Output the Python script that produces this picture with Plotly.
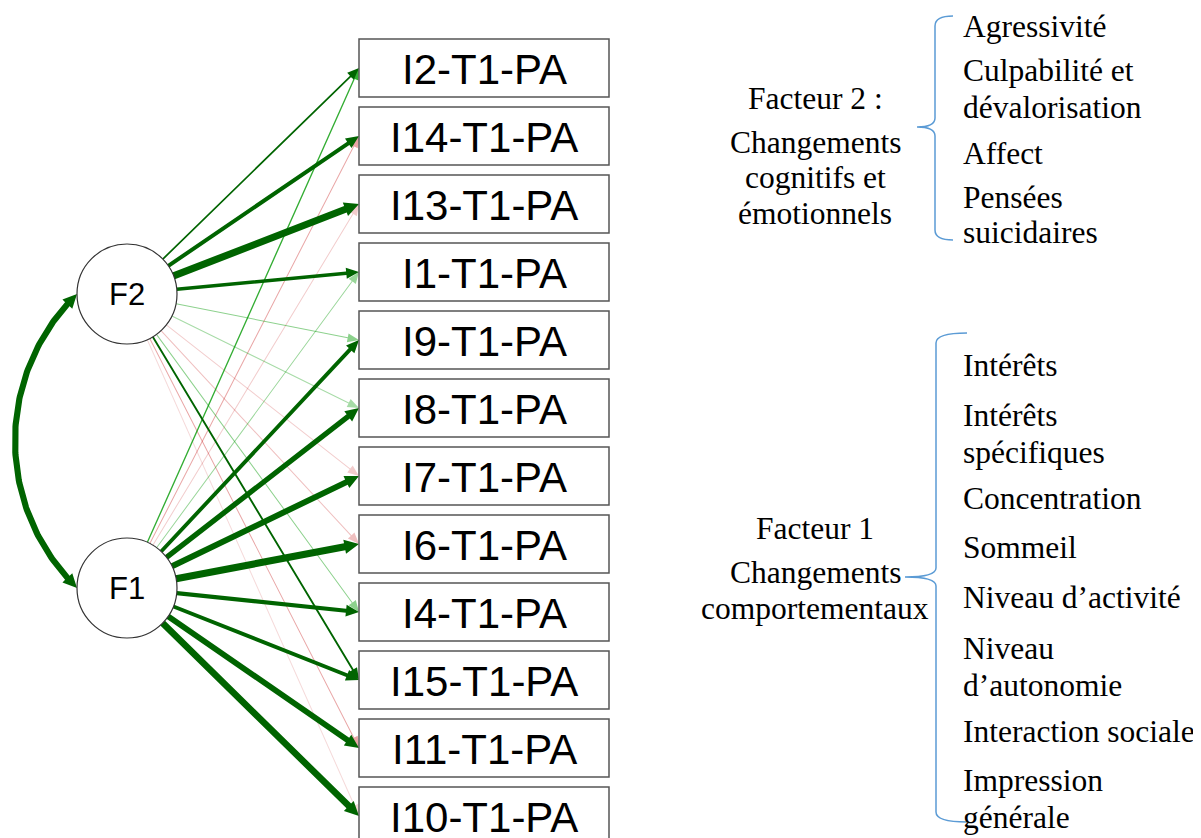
import numpy as np
import plotly.graph_objects as go

items = ["I2-T1-PA", "I14-T1-PA", "I13-T1-PA", "I1-T1-PA", "I9-T1-PA", "I8-T1-PA",
         "I7-T1-PA", "I6-T1-PA", "I4-T1-PA", "I15-T1-PA", "I11-T1-PA", "I10-T1-PA"]
load_f2 = [0.20, 0.47, 0.84, 0.42, 0.09, 0.07, -0.04, -0.05, 0.09, 0.22, -0.07, -0.03]
load_f1 = [0.16, -0.07, -0.04, 0.08, 0.45, 0.62, 0.70, 0.84, 0.48, 0.45, 0.68, 0.78]
cov_f1_f2 = 0.72

f2_title = ["Facteur 2 :", "Changements", "cognitifs et", "émotionnels"]
f2_items = ["Agressivité", "Culpabilité et", "dévalorisation", "Affect", "Pensées", "suicidaires"]
f1_title = ["Facteur 1", "Changements", "comportementaux"]
f1_items = ["Intérêts", "Intérêts", "spécifiques", "Concentration", "Sommeil",
            "Niveau d’activité", "Niveau", "d’autonomie", "Interaction sociale",
            "Impression", "générale"]

# layout (pixels of the page)
W, H = 1201, 838
PAD = 8  # default body margin of the html page
F2C = (127, 294)
F1C = (127, 588)
RAD = 50
BOX_X0, BOX_X1, BOX_TOP, PITCH, BOX_H = 359, 609, 39, 68, 58
CUT = 0.2

f2_title_base = [108, 152, 187, 223]
f2_item_base = [36, 80, 117, 163, 207, 242]
f1_title_base = [538, 582, 618]
f1_item_base = [375, 425, 462, 508, 557, 607, 658, 695, 741, 790, 827]


def edge_style(w):
    a = min(1.0, abs(w) / CUT)
    if w > 0:
        rgb = (0, 100, 0) if abs(w) >= CUT else (0, 153, 0)
    else:
        rgb = (191, 0, 0)
    return f"rgba({rgb[0]},{rgb[1]},{rgb[2]},{a:.2f})", max(1.0, 8.5 * abs(w))


def arrow_polygon(start, end, width):
    s = np.array(start, float)
    e = np.array(end, float)
    u = (e - s) / np.linalg.norm(e - s)
    n = np.array([-u[1], u[0]])
    L = 11 + 0.5 * width
    hw = 4 + 0.45 * width
    b = e - L * u
    pts = [s + n * width / 2, b + n * width / 2, b + n * hw, e,
           b - n * hw, b - n * width / 2, s - n * width / 2, s + n * width / 2]
    return [p[0] for p in pts], [p[1] for p in pts]


fig = go.Figure()

edges = []
for i in range(len(items)):
    yc = BOX_TOP + PITCH * i + BOX_H / 2
    edges.append((F2C, (BOX_X0, yc), load_f2[i]))
    edges.append((F1C, (BOX_X0, yc), load_f1[i]))
edges.sort(key=lambda e: abs(e[2]))

for c, end, w in edges:
    col, lw = edge_style(w)
    d = np.array(end) - np.array(c)
    start = np.array(c) + RAD * d / np.linalg.norm(d)
    xs, ys = arrow_polygon(start, end, lw)
    fig.add_trace(go.Scatter(x=xs, y=ys, mode="lines", fill="toself", fillcolor=col,
                             line=dict(width=0), hoverinfo="skip", showlegend=False))

# curved covariance arrow between the two factors
top = (F2C[0] - RAD, F2C[1])
bot = (F1C[0] - RAD, F1C[1])
left_x = 15
half = (bot[1] - top[1]) / 2
sag = top[0] - left_x
R = (sag ** 2 + half ** 2) / (2 * sag)
cx, cy = left_x + R, (top[1] + bot[1]) / 2
t_top = np.arctan2(top[1] - cy, top[0] - cx) % (2 * np.pi)
t_bot = np.arctan2(bot[1] - cy, bot[0] - cx)
cov_col, cov_w = edge_style(cov_f1_f2)
L_head = 11 + 0.5 * cov_w
dt = (L_head - 2) / R
th = np.linspace(t_bot + dt, t_top - dt, 120)
fig.add_trace(go.Scatter(x=cx + R * np.cos(th), y=cy + R * np.sin(th), mode="lines",
                         line=dict(color=cov_col, width=cov_w), hoverinfo="skip",
                         showlegend=False))
for tip_t, sgn in [(t_top, -1), (t_bot, 1)]:
    tip = (cx + R * np.cos(tip_t), cy + R * np.sin(tip_t))
    back_t = tip_t + sgn * (L_head + 4) / R
    back = (cx + R * np.cos(back_t), cy + R * np.sin(back_t))
    xs, ys = arrow_polygon(back, tip, cov_w)
    xs, ys = xs[1:6], ys[1:6]
    fig.add_trace(go.Scatter(x=xs, y=ys, mode="lines", fill="toself", fillcolor=cov_col,
                             line=dict(width=0), hoverinfo="skip", showlegend=False))

shapes = []
annotations = []

# factor circles
for name, (x, y) in [("F2", F2C), ("F1", F1C)]:
    shapes.append(dict(type="circle", x0=x - RAD, x1=x + RAD, y0=y - RAD, y1=y + RAD,
                       line=dict(color="#333333", width=1.2), fillcolor="white", layer="above"))
    annotations.append(dict(x=x, y=y, text=name, showarrow=False,
                            font=dict(family="Liberation Sans", size=31, color="black")))

# item boxes
for i, name in enumerate(items):
    y0 = BOX_TOP + PITCH * i
    shapes.append(dict(type="rect", x0=BOX_X0, x1=BOX_X1, y0=y0, y1=y0 + BOX_H,
                       line=dict(color="#555555", width=1.5), fillcolor="white", layer="above"))
    annotations.append(dict(x=(BOX_X0 + BOX_X1) / 2, y=y0 + BOX_H / 2 + 1, text=name,
                            showarrow=False,
                            font=dict(family="Liberation Sans", size=42, color="black")))


# braces
def brace(xe, xs, xt, yt, ym, yb):
    return (f"M{xe},{yt} Q{xs},{yt} {xs},{yt + 10} L{xs},{ym - 9} Q{xs},{ym} {xt},{ym} "
            f"Q{xs},{ym} {xs},{ym + 9} L{xs},{yb - 10} Q{xs},{yb} {xe},{yb}")


shapes.append(dict(type="path", path=brace(953, 935, 917, 16, 127, 240),
                   line=dict(color="#5B9BD5", width=1.5)))
shapes.append(dict(type="path", path=brace(967, 936, 905, 333, 577, 822),
                   line=dict(color="#5B9BD5", width=1.5)))

FS = 31.5
serif = dict(family="Liberation Serif", size=FS, color="black")
for txt, b in list(zip(f2_title, f2_title_base)) + list(zip(f1_title, f1_title_base)):
    annotations.append(dict(x=815, y=b - 0.3 * FS, text=txt, showarrow=False, font=serif,
                            xanchor="center"))
for txt, b in list(zip(f2_items, f2_item_base)) + list(zip(f1_items, f1_item_base)):
    annotations.append(dict(x=961, y=b - 0.3 * FS, text=txt, showarrow=False, font=serif,
                            xanchor="left"))

# the page body has an 8px margin, so the plot area starts at (PAD, PAD)
fig.update_layout(
    width=W - PAD, height=H - PAD,
    margin=dict(l=0, r=0, t=0, b=0),
    plot_bgcolor="white", paper_bgcolor="white",
    xaxis=dict(range=[PAD, W], visible=False, fixedrange=True),
    yaxis=dict(range=[H, PAD], visible=False, fixedrange=True),
    shapes=shapes,
    annotations=annotations,
    showlegend=False,
)

fig.write_html("out.html")
